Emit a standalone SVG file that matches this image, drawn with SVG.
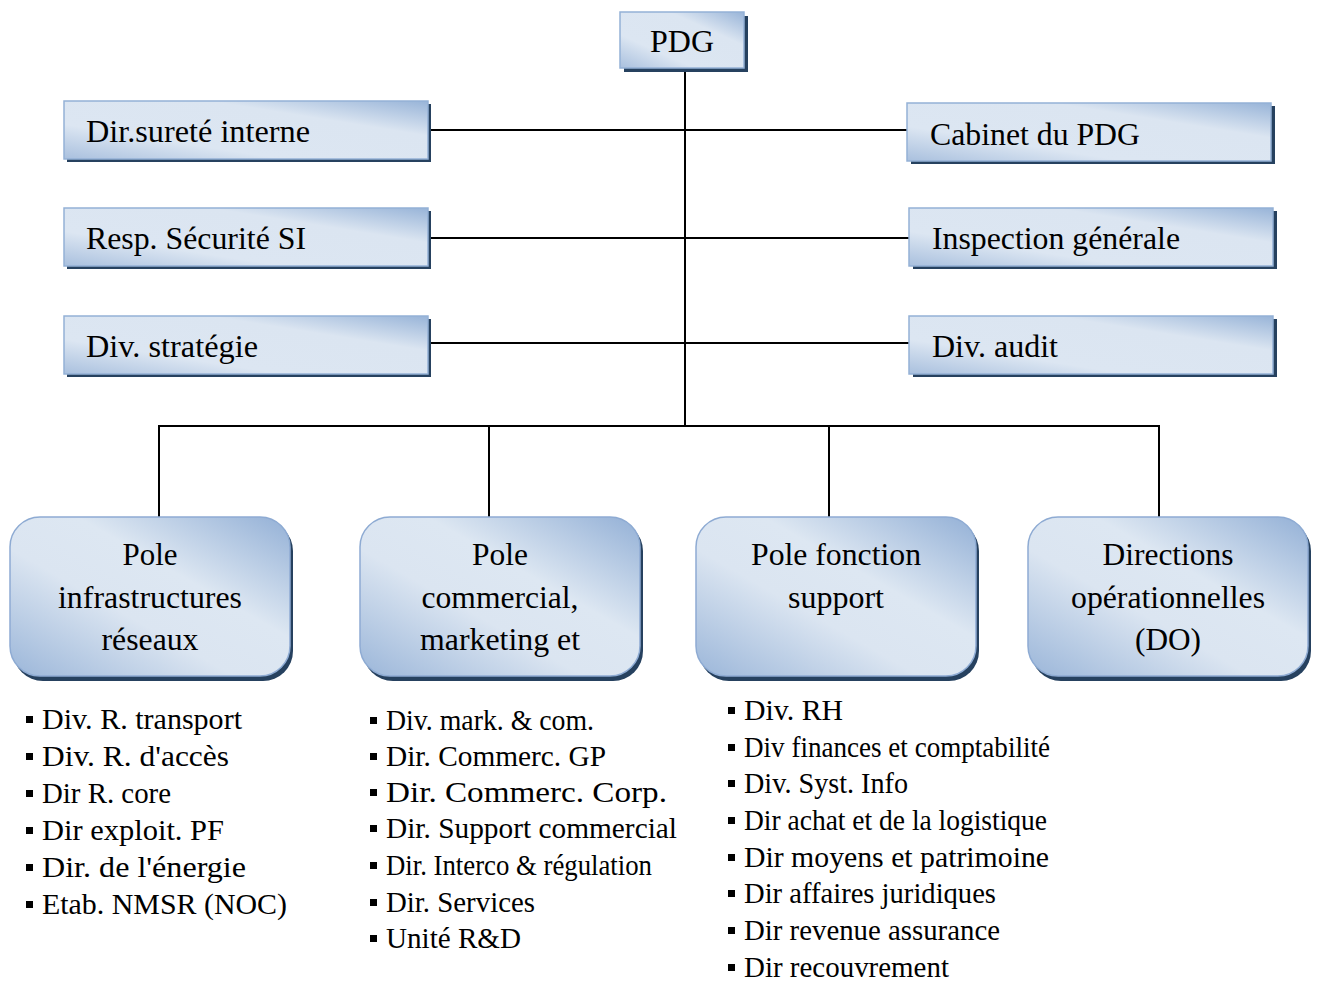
<svg xmlns="http://www.w3.org/2000/svg" width="1317" height="982" viewBox="0 0 1317 982">
<defs>
<linearGradient id="g" x1="0" y1="1" x2="1" y2="0">
<stop offset="0" stop-color="#9bb6d9"/>
<stop offset="0.4" stop-color="#dbe5f1"/>
<stop offset="0.62" stop-color="#dde7f2"/>
<stop offset="1" stop-color="#93b0d6"/>
</linearGradient>
<linearGradient id="gr" x1="0" y1="1" x2="1" y2="0">
<stop offset="0" stop-color="#a9c0de"/>
<stop offset="0.3" stop-color="#dce6f2"/>
<stop offset="0.7" stop-color="#dbe5f1"/>
<stop offset="1" stop-color="#98b4d8"/>
</linearGradient>
<style>
.box{fill:url(#gr);stroke:#94b1d6;stroke-width:1.5}
.rbox{fill:url(#g);stroke:#8eabd3;stroke-width:1.5}
.sh{fill:#26415f}
.t{font-family:"Liberation Serif","Times New Roman",serif;fill:#000}
.bt{font-size:31px}
.ct{font-size:31px;text-anchor:middle}
.lt{font-size:29px}
.bul{fill:#000}
.ln{stroke:#000;stroke-width:2;fill:none}
</style>
</defs>

<g id="connectors">
<line class="ln" x1="685" y1="68" x2="685" y2="426"/>
<line class="ln" x1="428" y1="130" x2="907" y2="130"/>
<line class="ln" x1="428" y1="238" x2="909" y2="238"/>
<line class="ln" x1="428" y1="343" x2="909" y2="343"/>
<line class="ln" x1="158" y1="426" x2="1160" y2="426"/>
<line class="ln" x1="159" y1="426" x2="159" y2="518"/>
<line class="ln" x1="489" y1="426" x2="489" y2="518"/>
<line class="ln" x1="829" y1="426" x2="829" y2="518"/>
<line class="ln" x1="1159" y1="426" x2="1159" y2="518"/>
</g>

<g id="pdg">
<rect class="sh" x="624" y="16" width="124" height="56"/>
<rect class="box" x="620" y="12" width="124" height="56"/>
<text class="t" x="682" y="52" font-size="32" text-anchor="middle">PDG</text>
</g>

<g id="surete">
<rect class="sh" x="67" y="104" width="364" height="58"/>
<rect class="box" x="64" y="101" width="364" height="58"/>
<text class="t bt" x="86" y="142" textLength="224" lengthAdjust="spacingAndGlyphs">Dir.sureté interne</text>
</g>
<g id="cabinet">
<rect class="sh" x="911" y="106" width="364" height="58"/>
<rect class="box" x="907" y="103" width="364" height="58"/>
<text class="t bt" x="930" y="145" textLength="210" lengthAdjust="spacingAndGlyphs">Cabinet du PDG</text>
</g>
<g id="securite">
<rect class="sh" x="67" y="211" width="364" height="58"/>
<rect class="box" x="64" y="208" width="364" height="58"/>
<text class="t bt" x="86" y="249" textLength="220" lengthAdjust="spacingAndGlyphs">Resp. Sécurité SI</text>
</g>
<g id="inspection">
<rect class="sh" x="913" y="211" width="364" height="58"/>
<rect class="box" x="909" y="208" width="364" height="58"/>
<text class="t bt" x="932" y="249" textLength="248" lengthAdjust="spacingAndGlyphs">Inspection générale</text>
</g>
<g id="strategie">
<rect class="sh" x="67" y="319" width="364" height="58"/>
<rect class="box" x="64" y="316" width="364" height="58"/>
<text class="t bt" x="86" y="357" textLength="172" lengthAdjust="spacingAndGlyphs">Div. stratégie</text>
</g>
<g id="audit">
<rect class="sh" x="913" y="319" width="364" height="58"/>
<rect class="box" x="909" y="316" width="364" height="58"/>
<text class="t bt" x="932" y="357" textLength="126" lengthAdjust="spacingAndGlyphs">Div. audit</text>
</g>

<g id="pole-infra">
<rect class="sh" x="13" y="521" width="280" height="160" rx="30"/>
<rect class="rbox" x="10" y="517" width="280" height="159" rx="30"/>
<text class="t ct" x="150" y="565" textLength="55" lengthAdjust="spacingAndGlyphs">Pole</text>
<text class="t ct" x="150" y="608" textLength="184" lengthAdjust="spacingAndGlyphs">infrastructures</text>
<text class="t ct" x="150" y="650" textLength="97" lengthAdjust="spacingAndGlyphs">réseaux</text>
</g>
<g id="pole-commercial">
<rect class="sh" x="363" y="521" width="280" height="160" rx="30"/>
<rect class="rbox" x="360" y="517" width="280" height="159" rx="30"/>
<text class="t ct" x="500" y="565" textLength="56" lengthAdjust="spacingAndGlyphs">Pole</text>
<text class="t ct" x="500" y="608" textLength="157" lengthAdjust="spacingAndGlyphs">commercial,</text>
<text class="t ct" x="500" y="650" textLength="160" lengthAdjust="spacingAndGlyphs">marketing et</text>
</g>
<g id="pole-support">
<rect class="sh" x="699" y="521" width="280" height="160" rx="30"/>
<rect class="rbox" x="696" y="517" width="280" height="159" rx="30"/>
<text class="t ct" x="836" y="565" textLength="170" lengthAdjust="spacingAndGlyphs">Pole fonction</text>
<text class="t ct" x="836" y="608" textLength="96" lengthAdjust="spacingAndGlyphs">support</text>
</g>
<g id="directions-op">
<rect class="sh" x="1031" y="521" width="280" height="160" rx="30"/>
<rect class="rbox" x="1028" y="517" width="280" height="159" rx="30"/>
<text class="t ct" x="1168" y="565" textLength="131" lengthAdjust="spacingAndGlyphs">Directions</text>
<text class="t ct" x="1168" y="608" textLength="194" lengthAdjust="spacingAndGlyphs">opérationnelles</text>
<text class="t ct" x="1168" y="650" textLength="66" lengthAdjust="spacingAndGlyphs">(DO)</text>
</g>

<g id="list-infra">
<rect class="bul" x="26" y="716" width="7" height="7"/>
<rect class="bul" x="26" y="753" width="7" height="7"/>
<rect class="bul" x="26" y="790" width="7" height="7"/>
<rect class="bul" x="26" y="827" width="7" height="7"/>
<rect class="bul" x="26" y="864" width="7" height="7"/>
<rect class="bul" x="26" y="901" width="7" height="7"/>
<text class="t lt" x="42" y="729" textLength="200" lengthAdjust="spacingAndGlyphs">Div. R. transport</text>
<text class="t lt" x="42" y="766" textLength="187" lengthAdjust="spacingAndGlyphs">Div. R. d'accès</text>
<text class="t lt" x="42" y="803" textLength="129" lengthAdjust="spacingAndGlyphs">Dir R. core</text>
<text class="t lt" x="42" y="840" textLength="182" lengthAdjust="spacingAndGlyphs">Dir exploit. PF</text>
<text class="t lt" x="42" y="877" textLength="204" lengthAdjust="spacingAndGlyphs">Dir. de l'énergie</text>
<text class="t lt" x="42" y="914" textLength="245" lengthAdjust="spacingAndGlyphs">Etab. NMSR (NOC)</text>
</g>

<g id="list-commercial">
<rect class="bul" x="370" y="717" width="7" height="7"/>
<rect class="bul" x="370" y="753" width="7" height="7"/>
<rect class="bul" x="370" y="789" width="7" height="7"/>
<rect class="bul" x="370" y="825" width="7" height="7"/>
<rect class="bul" x="370" y="862" width="7" height="7"/>
<rect class="bul" x="370" y="899" width="7" height="7"/>
<rect class="bul" x="370" y="935" width="7" height="7"/>
<text class="t lt" x="386" y="730" textLength="208" lengthAdjust="spacingAndGlyphs">Div. mark. &amp; com.</text>
<text class="t lt" x="386" y="766" textLength="220" lengthAdjust="spacingAndGlyphs">Dir. Commerc. GP</text>
<text class="t lt" x="386" y="802" textLength="281" lengthAdjust="spacingAndGlyphs">Dir. Commerc. Corp.</text>
<text class="t lt" x="386" y="838" textLength="291" lengthAdjust="spacingAndGlyphs">Dir. Support commercial</text>
<text class="t lt" x="386" y="875" textLength="266" lengthAdjust="spacingAndGlyphs">Dir. Interco &amp; régulation</text>
<text class="t lt" x="386" y="912" textLength="149" lengthAdjust="spacingAndGlyphs">Dir. Services</text>
<text class="t lt" x="386" y="948" textLength="135" lengthAdjust="spacingAndGlyphs">Unité R&amp;D</text>
</g>

<g id="list-support">
<rect class="bul" x="728" y="707" width="7" height="7"/>
<rect class="bul" x="728" y="744" width="7" height="7"/>
<rect class="bul" x="728" y="780" width="7" height="7"/>
<rect class="bul" x="728" y="817" width="7" height="7"/>
<rect class="bul" x="728" y="854" width="7" height="7"/>
<rect class="bul" x="728" y="890" width="7" height="7"/>
<rect class="bul" x="728" y="927" width="7" height="7"/>
<rect class="bul" x="728" y="964" width="7" height="7"/>
<text class="t lt" x="744" y="720" textLength="99" lengthAdjust="spacingAndGlyphs">Div. RH</text>
<text class="t lt" x="744" y="757" textLength="306" lengthAdjust="spacingAndGlyphs">Div finances et comptabilité</text>
<text class="t lt" x="744" y="793" textLength="164" lengthAdjust="spacingAndGlyphs">Div. Syst. Info</text>
<text class="t lt" x="744" y="830" textLength="303" lengthAdjust="spacingAndGlyphs">Dir achat et de la logistique</text>
<text class="t lt" x="744" y="867" textLength="305" lengthAdjust="spacingAndGlyphs">Dir moyens et patrimoine</text>
<text class="t lt" x="744" y="903" textLength="252" lengthAdjust="spacingAndGlyphs">Dir affaires juridiques</text>
<text class="t lt" x="744" y="940" textLength="256" lengthAdjust="spacingAndGlyphs">Dir revenue assurance</text>
<text class="t lt" x="744" y="977" textLength="205" lengthAdjust="spacingAndGlyphs">Dir recouvrement</text>
</g>
</svg>
